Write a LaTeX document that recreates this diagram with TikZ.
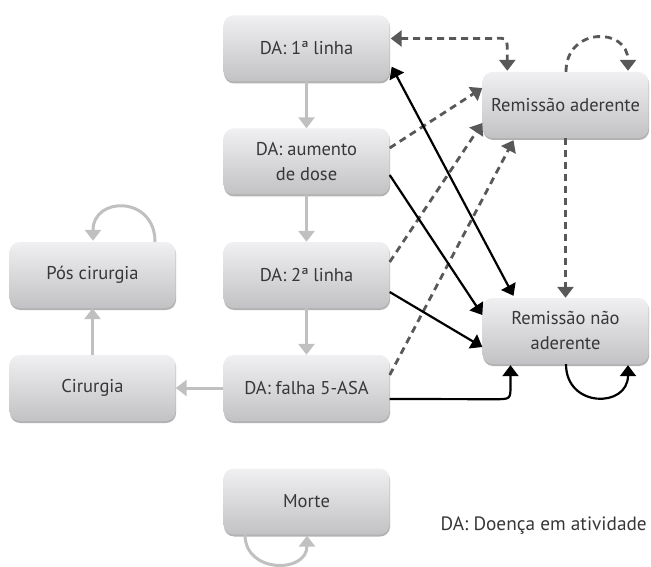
\documentclass[tikz,border=0pt]{standalone}
\usepackage{fontspec}
\setmainfont{PT Sans}
\usetikzlibrary{arrows.meta,shadows,calc}
\definecolor{boxtop}{RGB}{240,240,242}
\definecolor{boxbot}{RGB}{194,194,196}
\definecolor{txt}{RGB}{55,55,55}
\definecolor{lgray}{RGB}{192,192,192}
\definecolor{dgray}{RGB}{88,88,88}
\tikzset{
  stbox/.style={rounded corners=10pt, minimum width=166pt, minimum height=66pt, inner sep=0pt,
    top color=boxtop, bottom color=boxbot, draw=none, text=txt, align=center,
    font=\fontsize{18.5}{25}\selectfont,
    drop shadow={shadow xshift=0.6pt, shadow yshift=-2pt, opacity=0.3, fill=black}},
  tip/.style={-{Triangle[width=16pt,length=11pt]}},
  both/.style={{Triangle[width=16pt,length=11pt]}-{Triangle[width=16pt,length=11pt]}},
  grayarr/.style={tip, draw=lgray, line width=3pt},
  dasharr/.style={draw=dgray, line width=2.8pt, dash pattern=on 7pt off 5pt},
  blackarr/.style={draw=black, line width=2.2pt},
}
\begin{document}
\begin{tikzpicture}[x=1pt,y=-1pt]
\useasboundingbox (0,0) rectangle (651,567);
\node[stbox] (d1) at (306.5,48.5) {DA: 1ª linha};
\node[stbox] (d2) at (306.5,161.5) {DA: aumento\\de dose};
\node[stbox] (d3) at (306.5,275) {DA: 2ª linha};
\node[stbox] (d4) at (306.5,388) {DA: falha 5-ASA};
\node[stbox] (pos) at (92.5,275) {Pós cirurgia};
\node[stbox] (cir) at (92.5,388) {Cirurgia};
\node[stbox] (morte) at (306.5,501.5) {Morte};
\node[stbox] (ra) at (565.5,105) {Remissão aderente};
\node[stbox] (rn) at (565.5,331) {Remissão não\\aderente};
\node[text=txt, font=\fontsize{19.3}{24}\selectfont, anchor=east, inner sep=0pt] (leg) at (647,526) {DA: Doença em atividade};

% gray arrows
\draw[grayarr] (d1.south) -- (d2.north);
\draw[grayarr] (d2.south) -- (d3.north);
\draw[grayarr] (d3.south) -- (d4.north);
\draw[grayarr] (d4.west) -- (cir.east);
\draw[grayarr] (cir.north) -- (pos.south);
\draw[grayarr] ($(pos.north)+(62.5,0)$) .. controls ($(pos.north)+(62.5,-46)$) and ($(pos.north)+(0.5,-46)$) .. ($(pos.north)+(0.5,-1)$);
\draw[grayarr] ($(morte.south)+(-61.5,0)$) .. controls ($(morte.south)+(-61.5,39)$) and ($(morte.south)+(0.5,39)$) .. ($(morte.south)+(0.5,1)$);

% dashed arrows
\draw[dasharr, both] ($(d1.east)+(1,-10)$) -- ($(d1.east)+(104,-10)$) .. controls ($(ra.north west)+(25,-34)$) .. ($(ra.north west)+(25,-18)$) -- ($(ra.north west)+(25,-1)$);
\draw[dasharr, tip] ($(ra.north)+(0.5,0)$) .. controls ($(ra.north)+(0.5,-45)$) and ($(ra.north)+(62.5,-45)$) .. ($(ra.north)+(62.5,-1)$);
\draw[dasharr, tip] (ra.south) -- (rn.north);
\draw[dasharr, tip] ($(d2.east)+(0,-13.5)$) -- ($(ra.west)+(0,-17)$);
\draw[dasharr, tip] ($(d3.east)+(0,-13)$) -- ($(ra.west)+(0,18)$);
\draw[dasharr, tip] ($(d4.east)+(0,-13)$) -- ($(ra.south)+(-52,2)$);

% black arrows
\draw[blackarr, both] ($(d1.south east)+(2,-15)$) -- ($(rn.north)+(-52,-2)$);
\draw[blackarr, tip] ($(d2.east)+(0,13.5)$) -- ($(rn.west)+(0,-16)$);
\draw[blackarr, tip] ($(d3.east)+(0,17)$) -- ($(rn.west)+(0,16)$);
\draw[blackarr, tip] ($(d4.east)+(0,11)$) -- ($(rn.south)+(-71,35)$) .. controls ($(rn.south)+(-55,35)$) .. ($(rn.south)+(-55,21)$) -- ($(rn.south)+(-55,1)$);
\draw[blackarr, tip] ($(rn.south)+(0.5,0)$) .. controls ($(rn.south)+(0.5,44)$) and ($(rn.south)+(62.5,44)$) .. ($(rn.south)+(62.5,1)$);
\end{tikzpicture}
\end{document}
